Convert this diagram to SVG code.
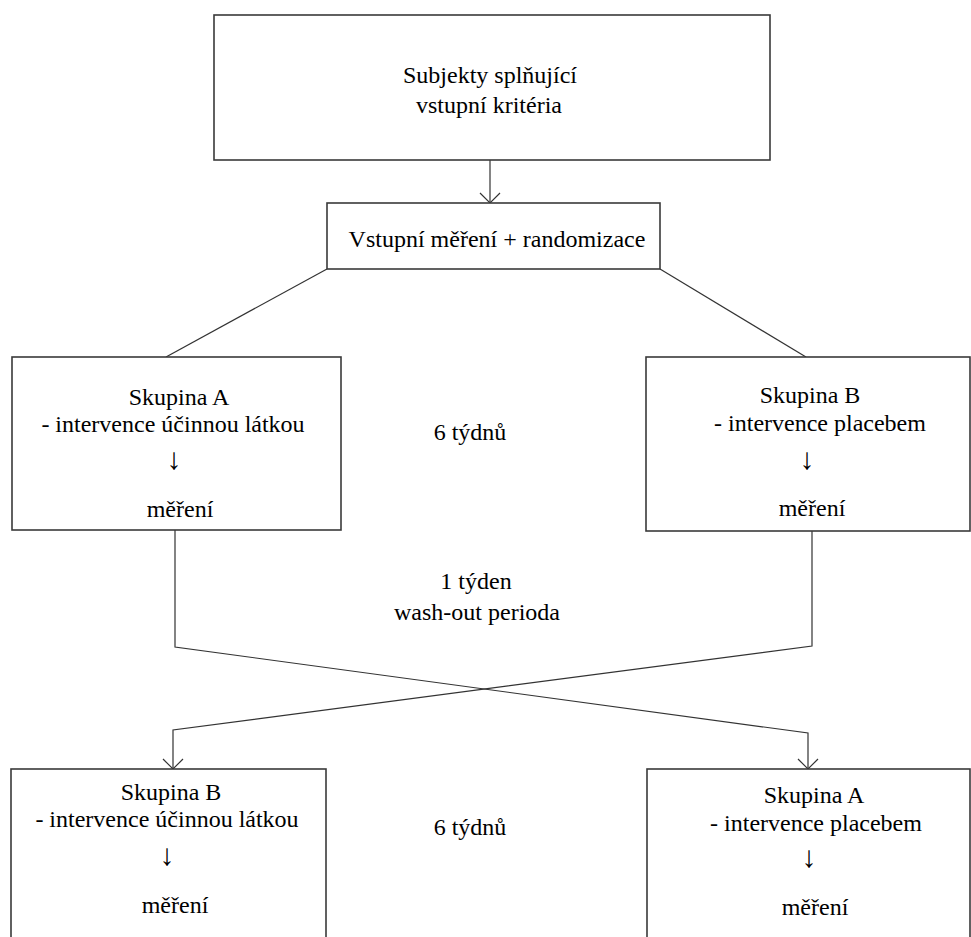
<svg xmlns="http://www.w3.org/2000/svg" width="971" height="937" viewBox="0 0 971 937">
  <style>
    .box { fill: #ffffff; stroke: #3a3a3a; stroke-width: 1.6; }
    .link { fill: none; stroke: #333333; stroke-width: 1.2; }
    text { fill: #000000; text-anchor: middle; }
    .arr { font-size: 30px; font-weight: bold; }
  </style>
  <defs>
    <marker id="open-arrow" markerWidth="24" markerHeight="24" refX="12" refY="12" orient="auto" markerUnits="userSpaceOnUse">
      <path d="M2,2 L12,12 L2,22" fill="none" stroke="#333333" stroke-width="1.2"/>
    </marker>
  </defs>
  <rect width="971" height="937" fill="#ffffff"/>

  <g id="connectors">
    <line class="link" x1="490" y1="160" x2="490" y2="203" marker-end="url(#open-arrow)"/>
    <line class="link" x1="327" y1="269" x2="166" y2="357"/>
    <line class="link" x1="660" y1="269" x2="806" y2="357"/>
    <polyline class="link" points="175,530 175,647 808,733 808,769" marker-end="url(#open-arrow)"/>
    <polyline class="link" points="812,531 812,646 173,730 173,769" marker-end="url(#open-arrow)"/>
  </g>

  <g font-family="Liberation Serif, Times New Roman, serif" font-size="24">
    <g id="node-subjekty">
      <rect class="box" x="214" y="15" width="556" height="145"/>
      <text x="490" y="83">Subjekty splňující</text>
      <text x="489" y="113">vstupní kritéria</text>
    </g>

    <g id="node-randomizace">
      <rect class="box" x="327" y="203" width="333" height="66"/>
      <text x="497" y="247">Vstupní měření + randomizace</text>
    </g>

    <g id="node-skupina-a-1">
      <rect class="box" x="12" y="357" width="329" height="173"/>
      <text x="179" y="405">Skupina A</text>
      <text x="173" y="432">- intervence účinnou látkou</text>
      <text class="arr" x="174" y="469">↓</text>
      <text x="180" y="517">měření</text>
    </g>

    <g id="node-skupina-b-1">
      <rect class="box" x="646" y="357" width="324" height="174"/>
      <text x="810" y="403">Skupina B</text>
      <text x="820" y="431">- intervence placebem</text>
      <text class="arr" x="807" y="469">↓</text>
      <text x="812" y="516">měření</text>
    </g>

    <g id="label-6-tydnu-1">
      <text x="470" y="440">6 týdnů</text>
    </g>

    <g id="label-wash-out">
      <text x="476" y="589">1 týden</text>
      <text x="477" y="620">wash-out perioda</text>
    </g>

    <g id="node-skupina-b-2">
      <rect class="box" x="11" y="769" width="315" height="180"/>
      <text x="171" y="800">Skupina B</text>
      <text x="167" y="827">- intervence účinnou látkou</text>
      <text class="arr" x="167" y="865">↓</text>
      <text x="175" y="913">měření</text>
    </g>

    <g id="node-skupina-a-2">
      <rect class="box" x="647" y="769" width="323" height="180"/>
      <text x="814" y="803">Skupina A</text>
      <text x="816" y="831">- intervence placebem</text>
      <text class="arr" x="809" y="867">↓</text>
      <text x="815" y="915">měření</text>
    </g>

    <g id="label-6-tydnu-2">
      <text x="470" y="835">6 týdnů</text>
    </g>
  </g>
</svg>
